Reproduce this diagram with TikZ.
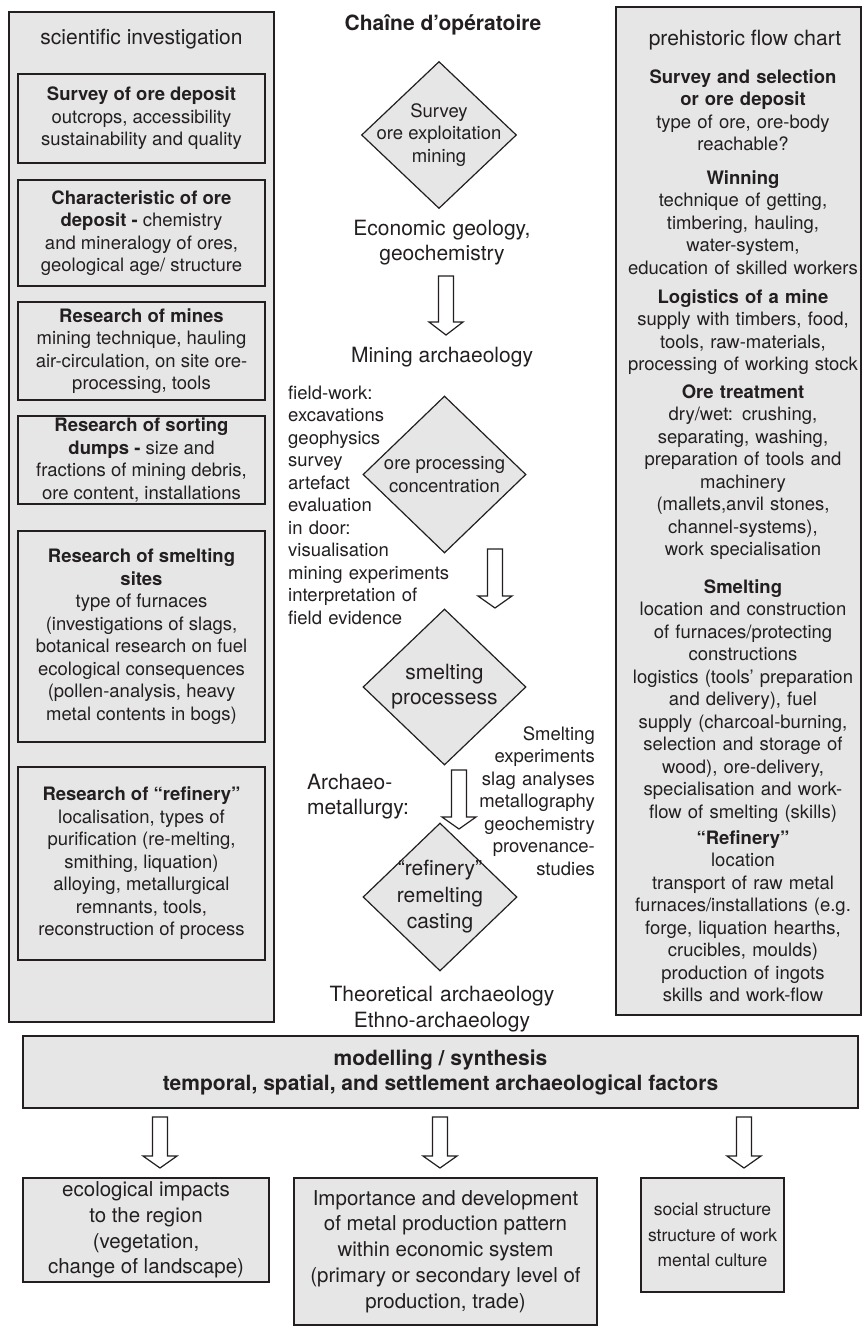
\documentclass[tikz,border=0pt]{standalone}
\usepackage{fontspec}
\setmainfont{TeX Gyre Heros}
\usetikzlibrary{shapes.geometric}
\definecolor{boxgray}{RGB}{230,230,230}
\definecolor{ink}{RGB}{35,31,32}
\newcommand{\fsmall}{\fontsize{18.5pt}{22.5pt}\selectfont}
\newcommand{\fbig}{\fontsize{21pt}{25pt}\selectfont}
\newcommand{\fbot}{\fontsize{20.5pt}{25.8pt}\selectfont}
\newcommand{\fbotc}{\fontsize{17.5pt}{25.5pt}\selectfont}
\newcommand{\blockarrow}[4]{%
  \draw[harrow] (#1-7.5,#2) -- (#1+7.5,#2) -- (#1+7.5,#3) -- (#1+17,#3) -- (#1,#4)
    -- (#1-17,#3) -- (#1-7.5,#3) -- cycle;}
\tikzset{
  every node/.style={text=ink, inner sep=0pt},
  outerbox/.style={draw=ink, line width=1.4pt, fill=boxgray},
  innerbox/.style={draw=ink, line width=1.3pt, fill=boxgray, align=center, font=\fsmall},
  botbox/.style={draw=ink, line width=1.3pt, fill=boxgray, align=center, font=\fbot},
  dia/.style={diamond, draw=ink, line width=1.2pt, fill=boxgray},
  txt/.style={font=\fsmall},
  bigtxt/.style={font=\fbig},
  harrow/.style={draw=ink, line width=1.2pt, fill=white, line join=miter},
}
\begin{document}
\begin{tikzpicture}[x=1pt,y=-1pt]
\useasboundingbox[fill=white] (0,0) rectangle (863,1328);

% ---------- left column ----------
\node[outerbox, minimum width=265pt, minimum height=1010pt] (left) at (141.5,517) {};
\node[bigtxt, anchor=base] (lefthead) at (141.5,44) {scientific investigation};
\node[innerbox, minimum width=247pt, minimum height=89pt] (l1) at (141.5,118.5)
  {\textbf{Survey of ore deposit}\\outcrops, accessibility\\sustainability and quality};
\node[innerbox, minimum width=247pt, minimum height=106pt] (l2) at (141.5,233)
  {\textbf{Characteristic of ore}\\\textbf{deposit -} chemistry\\and mineralogy of ores,\\geological age/ structure};
\node[innerbox, minimum width=247pt, minimum height=98pt] (l3) at (141.5,351)
  {\textbf{Research of mines}\\mining technique, hauling\\air-circulation, on site ore-\\processing, tools};
\node[innerbox, minimum width=247pt, minimum height=88pt] (l4) at (141.5,460)
  {\textbf{Research of sorting}\\\textbf{dumps -} size and\\fractions of mining debris,\\ore content, installations};
\node[innerbox, minimum width=247pt, minimum height=211pt] (l5) at (141.5,636.5)
  {\textbf{Research of smelting}\\\textbf{sites}\\type of furnaces\\(investigations of slags,\\botanical research on fuel\\ecological consequences\\(pollen-analysis, heavy\\metal contents in bogs)};
\node[innerbox, minimum width=247pt, minimum height=193pt] (l6) at (141.5,863.5)
  {\textbf{Research of “refinery”}\\localisation, types of\\purification (re-melting,\\smithing, liquation)\\alloying, metallurgical\\remnants, tools,\\reconstruction of process};

% ---------- right column ----------
\node[outerbox, minimum width=245pt, minimum height=1008pt] (right) at (738.5,511) {};
\node[bigtxt, anchor=base] (righthead) at (745,45) {prehistoric flow chart};
\node[txt, anchor=base, text width=244pt, align=center] (r1) at (743,83)
  {\textbf{Survey and selection}\\\textbf{or ore deposit}\\type of ore, ore-body\\reachable?};
\node[txt, anchor=base, text width=244pt, align=center] (r2) at (743,184)
  {\textbf{Winning}\\technique of getting,\\timbering, hauling,\\water-system,\\education of skilled workers};
\node[txt, anchor=base, text width=244pt, align=center] (r3) at (743,303)
  {\textbf{Logistics of a mine}\\supply with timbers, food,\\tools, raw-materials,\\processing of working stock};
\node[txt, anchor=base, text width=244pt, align=center] (r4) at (743,398)
  {\textbf{Ore treatment}\\dry/wet: crushing,\\separating, washing,\\preparation of tools and\\machinery\\(mallets,anvil stones,\\channel-systems),\\work specialisation};
\node[txt, anchor=base, text width=244pt, align=center] (r5) at (743,593)
  {\textbf{Smelting}\\location and construction\\of furnaces/protecting\\constructions\\logistics (tools’ preparation\\and delivery), fuel\\supply (charcoal-burning,\\selection and storage of\\wood), ore-delivery,\\specialisation and work-\\flow of smelting (skills)};
\node[txt, anchor=base, text width=244pt, align=center] (r6) at (743,844)
  {\textbf{“Refinery”}\\location\\transport of raw metal\\furnaces/installations (e.g.\\forge, liquation hearths,\\crucibles, moulds)\\production of ingots\\skills and work-flow};

% ---------- centre column ----------
\node[bigtxt, anchor=base] (title) at (443,30) {\textbf{Chaîne d’opératoire}};
\node[dia, minimum width=155pt, minimum height=147pt] (d1) at (439,135) {};
\node[txt, align=center] (d1t) at (d1.center) {Survey\\ore exploitation\\mining};
\node[bigtxt, anchor=base, text width=250pt, align=center] (econ) at (442,235)
  {Economic geology,\\geochemistry};
\blockarrow{446}{276}{322}{335}
\node[bigtxt, anchor=base] (mining) at (442,362) {Mining archaeology};
\node[txt, anchor=base west, text width=190pt, align=left] (field) at (288,399)
  {field-work:\\excavations\\geophysics\\survey\\artefact\\evaluation\\in door:\\visualisation\\mining experiments\\interpretation of\\field evidence};
\node[dia, minimum width=163pt, minimum height=157pt] (d2) at (444.5,474.5) {};
\node[txt, align=center] (d2t) at (d2.center) {ore processing\\concentration};
\blockarrow{495}{549}{596}{608}
\node[dia, minimum width=163pt, minimum height=156pt] (d3) at (444.5,687) {};
\node[bigtxt, align=center] (d3t) at (d3.center) {smelting\\processess};
\node[txt, anchor=base east, text width=140pt, align=right] (smexp) at (595,740)
  {Smelting\\experiments\\slag analyses\\metallography\\geochemistry\\provenance-\\studies};
\node[bigtxt, anchor=base west, text width=130pt, align=left] (archmet) at (307,789)
  {Archaeo-\\metallurgy:};
\blockarrow{459}{770}{817}{829}
\node[dia, minimum width=154pt, minimum height=148pt] (d4) at (440,897) {};
\node[font=\fontsize{21pt}{26.5pt}\selectfont, align=center] (d4t) at (d4.center)
  {“refinery”\\remelting\\casting};
\node[font=\fontsize{21pt}{26pt}\selectfont, anchor=base, text width=300pt, align=center] (theo) at (442,1001)
  {Theoretical archaeology\\Ethno-archaeology};

% ---------- bottom ----------
\node[draw=ink, line width=1.4pt, fill=boxgray, align=center, font=\fbig,
      minimum width=835pt, minimum height=72pt] (model) at (440.5,1072)
  {\textbf{modelling / synthesis}\\\textbf{temporal, spatial, and settlement archaeological factors}};
\blockarrow{160}{1117}{1156}{1168}
\blockarrow{440}{1117}{1156}{1168}
\blockarrow{744}{1117}{1156}{1168}
\node[botbox, minimum width=246pt, minimum height=104pt] (ba) at (146,1230)
  {ecological impacts\\to the region\\(vegetation,\\change of landscape)};
\node[botbox, minimum width=303pt, minimum height=147pt] (bb) at (445.5,1251.5)
  {Importance and development\\of metal production pattern\\within economic system\\(primary or secondary level of\\production, trade)};
\node[botbox, font=\fbotc, minimum width=143pt, minimum height=114pt] (bc) at (712.5,1235)
  {social structure\\structure of work\\mental culture};
\end{tikzpicture}
\end{document}
